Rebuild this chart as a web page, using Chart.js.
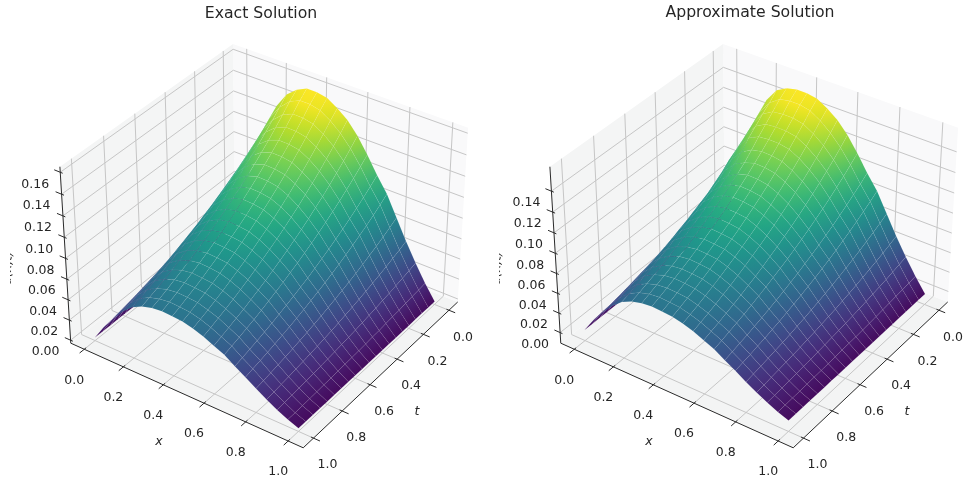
<!DOCTYPE html>
<html>
<head>
<meta charset="utf-8">
<script src="https://cdn.jsdelivr.net/npm/chart.js@4"></script>
<style>
  html, body { margin: 0; background: #fff; overflow: hidden; width: 964px; height: 483px; }
  canvas { position: absolute; top: 0; filter: blur(0.3px); }
</style>
</head>
<body>
<canvas id="chart_exact" width="522" height="483" style="left:0"></canvas>
<canvas id="chart_approx" width="520" height="483" style="left:490px"></canvas>
<script>
/*DATA*/
const xGrid = [0,0.05,0.1,0.15,0.2,0.25,0.3,0.35,0.4,0.45,0.5,0.55,0.6,0.65,0.7,0.75,0.8,0.85,0.9,0.95,1];
const tGrid = [0,0.05,0.1,0.15,0.2,0.25,0.3,0.35,0.4,0.45,0.5,0.55,0.6,0.65,0.7,0.75,0.8,0.85,0.9,0.95,1];
const xTicks = [0,0.2,0.4,0.6,0.8,1];
const tTicks = [0,0.2,0.4,0.6,0.8,1];
const zTicksExact = [0,0.02,0.04,0.06,0.08,0.1,0.12,0.14,0.16];
const zTicksApprox = [0,0.02,0.04,0.06,0.08,0.1,0.12,0.14];
// one row per t, one column per x
const uExact = [
[0,.048,.0832,.1104,.1312,.1456,.1535,.158,.158,.156,.15,.1424,.1312,.1168,.1008,.0864,.0672,.048,.0304,.0144,0],
[0,.0453,.0787,.1048,.1246,.1383,.1473,.1518,.1517,.1494,.1433,.1349,.1242,.1107,.0953,.0815,.0633,.0452,.0286,.0135,0],
[0,.0427,.0745,.0994,.1183,.1313,.1398,.144,.1438,.1416,.1358,.1278,.1176,.1048,.0902,.0769,.0597,.0426,.0269,.0127,0],
[0,.0403,.0705,.0943,.1124,.1247,.1327,.1366,.1364,.1344,.1288,.1212,.1114,.0994,.0853,.0726,.0563,.0401,.0253,.0119,0],
[0,.038,.0667,.0895,.1068,.1185,.1259,.1295,.1293,.1274,.1221,.1148,.1055,.0941,.0807,.0685,.053,.0378,.0238,.0111,0],
[0,.0358,.0631,.0849,.1014,.1124,.1195,.1229,.1226,.1208,.1157,.1088,.0999,.0892,.0763,.0647,.05,.0356,.0224,.0104,0],
[0,.0338,.0598,.0806,.0964,.1069,.1135,.1167,.1163,.1146,.1097,.1032,.0947,.0845,.0722,.0611,.0471,.0335,.0211,.0098,0],
[0,.0319,.0565,.0764,.0915,.1014,.1076,.1106,.1102,.1085,.104,.0977,.0896,.0801,.0683,.0576,.0444,.0315,.0198,.0091,0],
[0,.0301,.0535,.0725,.0869,.0963,.1022,.1049,.1045,.1029,.0985,.0926,.0849,.0759,.0646,.0543,.0418,.0297,.0186,.0086,0],
[0,.0284,.0507,.0688,.0826,.0915,.097,.0996,.0991,.0976,.0934,.0878,.0804,.0719,.0611,.0513,.0394,.0279,.0175,.008,0],
[0,.0267,.0479,.0652,.0784,.0868,.092,.0943,.0939,.0925,.0885,.0831,.0761,.0681,.0577,.0484,.0371,.0263,.0164,.0075,0],
[0,.0253,.0454,.0619,.0745,.0825,.0874,.0896,.0891,.0878,.084,.0788,.0721,.0646,.0547,.0457,.035,.0248,.0155,.007,0],
[0,.0238,.0429,.0588,.0708,.0784,.083,.085,.0845,.0832,.0796,.0747,.0683,.0612,.0517,.0431,.033,.0233,.0145,.0066,0],
[0,.0224,.0406,.0558,.0672,.0744,.0788,.0806,.0801,.0789,.0754,.0708,.0646,.058,.0489,.0407,.031,.0219,.0137,.0062,0],
[0,.0212,.0384,.0529,.0638,.0707,.0747,.0765,.0759,.0748,.0715,.067,.0612,.0549,.0462,.0383,.0292,.0206,.0128,.0058,0],
[0,.02,.0364,.0502,.0607,.0671,.071,.0726,.072,.0709,.0678,.0635,.058,.052,.0437,.0362,.0275,.0194,.0121,.0054,0],
[0,.0188,.0344,.0475,.0575,.0636,.0673,.0688,.0682,.0672,.0642,.0602,.0548,.0492,.0413,.0341,.0259,.0183,.0113,.005,0],
[0,.0178,.0325,.0452,.0548,.0605,.064,.0653,.0647,.0637,.0609,.057,.052,.0467,.0391,.0322,.0244,.0172,.0106,.0047,0],
[0,.0168,.0308,.0429,.052,.0575,.0607,.0619,.0614,.0605,.0577,.0541,.0492,.0443,.037,.0304,.023,.0162,.01,.0044,0],
[0,.0158,.0291,.0407,.0494,.0546,.0575,.0587,.0582,.0573,.0547,.0512,.0466,.0419,.035,.0287,.0217,.0152,.0094,.0041,0],
[0,.0149,.0276,.0386,.047,.0519,.0546,.0557,.0552,.0544,.0519,.0486,.0442,.0397,.0331,.027,.0204,.0144,.0088,.0039,0]
];
const uApprox = [
[0,.047,.0849,.1126,.1338,.147,.1525,.1548,.1548,.1529,.147,.1396,.1286,.1145,.0988,.0847,.0659,.047,.0298,.0141,0],
[0,.0444,.0803,.1069,.1271,.1398,.1468,.1488,.1487,.1464,.1404,.1322,.1217,.1085,.0934,.0799,.062,.0443,.028,.0132,0],
[0,.0418,.076,.1014,.1207,.1339,.1398,.1411,.1409,.1388,.1331,.1252,.1152,.1027,.0884,.0754,.0585,.0417,.0264,.0124,0],
[0,.0395,.0719,.0962,.1146,.1272,.1327,.1339,.1337,.1317,.1262,.1188,.1092,.0974,.0836,.0711,.0552,.0393,.0248,.0117,0],
[0,.0372,.068,.0913,.1089,.1209,.1259,.1269,.1267,.1249,.1197,.1125,.1034,.0922,.0791,.0671,.0519,.037,.0233,.0109,0],
[0,.0351,.0631,.0849,.1014,.1124,.1183,.1204,.1201,.1184,.1134,.1066,.0979,.0874,.0748,.0634,.049,.0349,.022,.0102,0],
[0,.0331,.0592,.0798,.0954,.1058,.1112,.1144,.114,.1123,.1075,.1011,.0928,.0828,.0708,.0599,.0462,.0328,.0207,.0096,0],
[0,.0313,.0554,.0749,.0897,.0994,.1054,.1084,.108,.1063,.1019,.0957,.0878,.0785,.0669,.0564,.0435,.0309,.0194,.0089,0],
[0,.0295,.0524,.0711,.0852,.0944,.1002,.1028,.1024,.1008,.0965,.0907,.0832,.0744,.0633,.0532,.041,.0291,.0182,.0084,0],
[0,.0278,.0497,.0674,.0809,.0897,.0951,.0976,.0971,.0956,.0915,.086,.0788,.0705,.0599,.0503,.0386,.0273,.0172,.0078,0],
[0,.0262,.0469,.0639,.0768,.0851,.0902,.0924,.092,.0907,.0867,.0814,.0746,.0667,.0565,.0474,.0364,.0258,.0161,.0074,0],
[0,.0248,.0445,.0607,.073,.0809,.0857,.0878,.0873,.086,.0823,.0772,.0707,.0633,.0536,.0448,.0343,.0243,.0152,.0069,0],
[0,.0233,.042,.0576,.0694,.0768,.0813,.0833,.0828,.0815,.078,.0732,.0669,.06,.0507,.0422,.0323,.0228,.0142,.0065,0],
[0,.022,.0398,.0547,.0659,.0729,.0772,.079,.0785,.0773,.0739,.0694,.0633,.0568,.0479,.0399,.0304,.0215,.0134,.0061,0],
[0,.0208,.0376,.0518,.0625,.0693,.0732,.075,.0744,.0733,.0701,.0657,.06,.0538,.0453,.0375,.0286,.0202,.0125,.0057,0],
[0,.0196,.0357,.0492,.0595,.0658,.0696,.0711,.0706,.0695,.0664,.0622,.0568,.051,.0428,.0355,.027,.019,.0119,.0053,0],
[0,.0184,.0337,.0466,.0564,.0623,.066,.0674,.0668,.0659,.0629,.059,.0537,.0482,.0405,.0334,.0254,.0179,.0111,.0049,0],
[0,.0174,.0319,.0443,.0537,.0593,.0627,.064,.0634,.0624,.0597,.0559,.051,.0458,.0383,.0316,.0239,.0169,.0104,.0046,0],
[0,.0165,.0302,.042,.051,.0564,.0595,.0607,.0602,.0593,.0565,.053,.0482,.0434,.0363,.0298,.0225,.0159,.0098,.0043,0],
[0,.0155,.0285,.0399,.0484,.0535,.0564,.0575,.057,.0562,.0536,.0502,.0457,.0411,.0343,.0281,.0213,.0149,.0092,.004,0],
[0,.0146,.027,.0378,.0461,.0509,.0535,.0546,.0541,.0533,.0509,.0476,.0433,.0389,.0324,.0265,.02,.0141,.0086,.0038,0]
];

/*VIEW of the 3d box*/
const elev = 35 * Math.PI / 180, azim = 35 * Math.PI / 180;
const dist = 10, pxPerUnit = 2300, originX = 266.6, originY = 237;
const boxXT = [-0.07, 1.07];
const halfXT = 0.62, halfZ = 0.465;
const sE = Math.sin(elev), cE = Math.cos(elev), sA = Math.sin(azim), cA = Math.cos(azim);

function project(x, t, z, zBox) {
    let pt = ((t - boxXT[0]) / (boxXT[1] - boxXT[0]) * 2 - 1) * halfXT;
    let px = ((x - boxXT[0]) / (boxXT[1] - boxXT[0]) * 2 - 1) * halfXT;
    let pz = ((z - zBox[0]) / (zBox[1] - zBox[0]) * 2 - 1) * halfZ;
    let depth = dist - (cE * cA * pt + cE * sA * px + sE * pz);
    return {
        x: (-sA * pt + cA * px) / depth,
        y: (-sE * cA * pt - sE * sA * px + cE * pz) / depth,
        depth: depth
    };
}

const viridis = [[68,1,84],[72,33,115],[67,62,133],[56,88,140],[45,112,142],[37,133,142],[30,155,138],[42,176,127],[82,197,105],[134,213,73],[194,223,35],[253,231,37]];
function viridisColor(v) {
    let p = Math.max(0, Math.min(1, v + 0.03)) * (viridis.length - 1); //small lift, the reference is a bit lighter at both ends
    let i = Math.min(Math.floor(p), viridis.length - 2), f = p - i;
    let c = viridis[i].map((a, k) => Math.round(a + (viridis[i + 1][k] - a) * f));
    return 'rgb(' + c.join(',') + ')';
}

function lineSet(points, color, width) {
    return { data: points, showLine: true, borderColor: color, borderWidth: width, pointRadius: 0, fill: false, clip: false };
}
function polySet(points, fillColor, edgeColor, width) {
    return { data: points.concat([points[0]]), showLine: true, fill: 'shape', backgroundColor: fillColor, borderColor: edgeColor, borderWidth: width, pointRadius: 0, clip: false };
}

// colour of one cell follows its four corner values, so the surface has no flat bands
function cellFill(ctx, corners, values) {
    let pix = corners.map(c => [originX + pxPerUnit * c.x, originY - pxPerUnit * c.y]);
    let vc = (values[0] + values[1] + values[2] + values[3]) / 4;
    let ax = (pix[1][0] + pix[2][0] - pix[0][0] - pix[3][0]) / 2, ay = (pix[1][1] + pix[2][1] - pix[0][1] - pix[3][1]) / 2;
    let bx = (pix[3][0] + pix[2][0] - pix[0][0] - pix[1][0]) / 2, by = (pix[3][1] + pix[2][1] - pix[0][1] - pix[1][1]) / 2;
    let dvA = (values[1] + values[2] - values[0] - values[3]) / 2, dvB = (values[3] + values[2] - values[0] - values[1]) / 2;
    let det = ax * by - ay * bx;
    if (Math.abs(det) < 0.01) return viridisColor(vc);
    let gx = (dvA * by - dvB * ay) / det, gy = (ax * dvB - bx * dvA) / det;
    let g2 = gx * gx + gy * gy;
    if (g2 < 1e-10) return viridisColor(vc);
    let spread = Math.max(...values.map(v => Math.abs(v - vc))) * 1.2 + 0.005;
    let cx = (pix[0][0] + pix[1][0] + pix[2][0] + pix[3][0]) / 4, cy = (pix[0][1] + pix[1][1] + pix[2][1] + pix[3][1]) / 4;
    let grad = ctx.createLinearGradient(cx - gx * spread / g2, cy - gy * spread / g2, cx + gx * spread / g2, cy + gy * spread / g2);
    grad.addColorStop(0, viridisColor(vc - spread));
    grad.addColorStop(1, viridisColor(vc + spread));
    return grad;
}

function buildDatasets(ctx, u, zTicks, zBox) {
    const P = (x, t, z) => project(x, t, z, zBox);
    const [lo, hi] = boxXT, [zLo, zHi] = zBox;
    let sets = [];

    let cells = [];
    let zMax = Math.max(...u.flat());
    for (let i = 0; i < tGrid.length - 1; i++) {
        for (let j = 0; j < xGrid.length - 1; j++) {
            let corners = [
                P(xGrid[j], tGrid[i], u[i][j]),
                P(xGrid[j + 1], tGrid[i], u[i][j + 1]),
                P(xGrid[j + 1], tGrid[i + 1], u[i + 1][j + 1]),
                P(xGrid[j], tGrid[i + 1], u[i + 1][j])
            ];
            let values = [u[i][j], u[i][j + 1], u[i + 1][j + 1], u[i + 1][j]].map(v => v / zMax);
            let depth = corners.reduce((a, c) => a + c.depth, 0) / 4;
            cells.push({ corners, values, depth });
        }
    }
    cells.sort((a, b) => a.depth - b.depth); // nearest first, chart.js paints the first dataset last
    cells.forEach(c => sets.push(polySet(c.corners, cellFill(ctx, c.corners, c.values), 'rgba(255,255,255,0.09)', 0.5)));

    const axisColor = '#2a2a2a', gridColor = '#c6c6c6';
    sets.push(lineSet([P(lo, hi, zLo), P(hi, hi, zLo)], axisColor, 1));
    sets.push(lineSet([P(hi, hi, zLo), P(hi, lo, zLo)], axisColor, 1));
    sets.push(lineSet([P(lo, hi, zLo), P(lo, hi, zHi)], axisColor, 1));
    xTicks.forEach(v => sets.push(lineSet([P(v, hi - 0.012, zLo), P(v, hi + 0.03, zLo)], axisColor, 1)));
    tTicks.forEach(v => sets.push(lineSet([P(hi - 0.012, v, zLo), P(hi + 0.03, v, zLo)], axisColor, 1)));
    zTicks.forEach(v => sets.push(lineSet([P(lo + 0.012, hi, v), P(lo - 0.03, hi, v)], axisColor, 1)));

    xTicks.forEach(v => sets.push(lineSet([P(v, hi, zLo), P(v, lo, zLo), P(v, lo, zHi)], gridColor, 1)));
    tTicks.forEach(v => sets.push(lineSet([P(hi, v, zLo), P(lo, v, zLo), P(lo, v, zHi)], gridColor, 1)));
    zTicks.forEach(v => sets.push(lineSet([P(lo, hi, v), P(lo, lo, v), P(hi, lo, v)], gridColor, 1)));

    sets.push(polySet([P(lo, lo, zLo), P(hi, lo, zLo), P(hi, lo, zHi), P(lo, lo, zHi)], '#f9f9fa', '#f9f9fa', 0));
    sets.push(polySet([P(lo, hi, zLo), P(lo, lo, zLo), P(lo, lo, zHi), P(lo, hi, zHi)], '#f4f5f5', '#f4f5f5', 0));
    sets.push(polySet([P(lo, hi, zLo), P(hi, hi, zLo), P(hi, lo, zLo), P(lo, lo, zLo)], '#f3f4f4', '#f3f4f4', 0));
    return sets;
}

// tick and axis labels, placed through the chart's own scales
function labelPlugin(zTicks, zBox, zLabel) {
    return {
        id: 'labels3d',
        afterDraw(chart) {
            const {ctx, scales} = chart;
            const [lo, hi] = boxXT, [zLo] = zBox;
            const at = (x, t, z) => {
                let p = project(x, t, z, zBox);
                return [scales.x.getPixelForValue(p.x), scales.y.getPixelForValue(p.y)];
            };
            ctx.save();
            ctx.fillStyle = '#262626';
            ctx.textAlign = 'center';
            ctx.textBaseline = 'middle';
            ctx.font = '12.5px "DejaVu Sans"';
            xTicks.forEach(v => { let [a, b] = at(v, hi, zLo); ctx.fillText(v.toFixed(1), a - 10, b + 31); });
            tTicks.forEach(v => { let [a, b] = at(hi, v, zLo); ctx.fillText(v.toFixed(1), a + 14, b + 27); });
            zTicks.forEach(v => { let [a, b] = at(lo, hi, v); ctx.fillText(v.toFixed(2), a - 25, b + 12); });
            ctx.font = 'italic 12.5px "DejaVu Sans"';
            ctx.fillText('x', 159, 442);
            ctx.fillText('t', 417, 412);
            // the u(x,t) label is cut by the left side of the panel
            ctx.beginPath();
            ctx.rect(zLabel.clipX, 240, 30, 60);
            ctx.clip();
            ctx.translate(zLabel.x, zLabel.y);
            ctx.rotate(-Math.PI / 2 + 0.05);
            ctx.fillText('u(x,t)', 0, 0);
            ctx.restore();
        }
    };
}

function makeChart(id, title, titleTop, u, zTicks, zBox, zLabel) {
    const canvas = document.getElementById(id);
    const ctx = canvas.getContext('2d');
    const titleSize = 15.7;
    const top = titleTop + titleSize * 1.2;
    return new Chart(ctx, {
        type: 'scatter',
        data: { datasets: buildDatasets(ctx, u, zTicks, zBox) },
        options: {
            responsive: false,
            animation: false,
            events: [],
            layout: { padding: 0 },
            plugins: {
                legend: { display: false },
                tooltip: { enabled: false },
                title: {
                    display: true,
                    text: title,
                    color: '#262626',
                    font: { family: '"DejaVu Sans"', size: titleSize, weight: 'normal' },
                    padding: { top: titleTop, bottom: 0 }
                }
            },
            scales: {
                x: { type: 'linear', display: false, min: -originX / pxPerUnit, max: (canvas.width - originX) / pxPerUnit },
                y: { type: 'linear', display: false, min: (originY - canvas.height) / pxPerUnit, max: (originY - top) / pxPerUnit }
            }
        },
        plugins: [labelPlugin(zTicks, zBox, zLabel)]
    });
}

makeChart('chart_exact', 'Exact Solution', 5, uExact, zTicksExact, [-0.003, 0.165], { x: 8, y: 268, clipX: 10 });
makeChart('chart_approx', 'Approximate Solution', 4, uApprox, zTicksApprox, [-0.011, 0.163], { x: 7, y: 268, clipX: 9 });
</script>
</body>
</html>
